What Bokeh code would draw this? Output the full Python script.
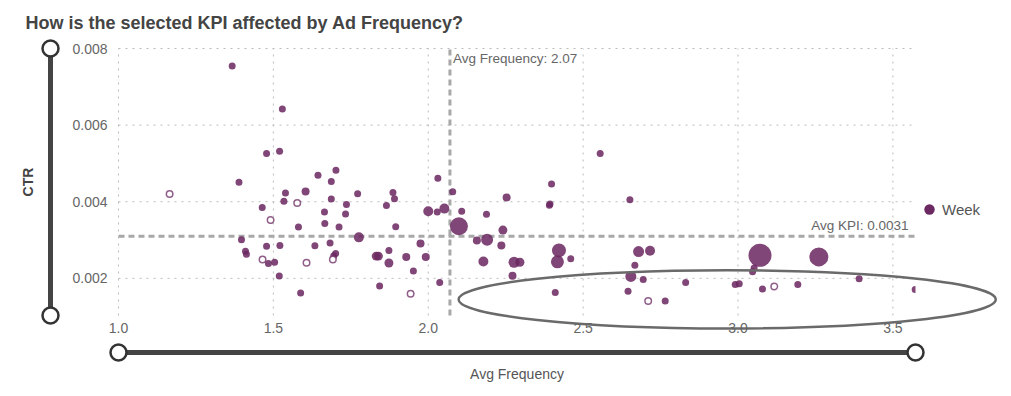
import numpy as np
from bokeh.plotting import figure
from bokeh.models import (LinearAxis, FixedTicker, NumeralTickFormatter, Label, Grid,
                          Legend, LegendItem, Range1d, ColumnDataSource)
from bokeh.embed import file_html
from bokeh.resources import INLINE

# ---------------- texts ----------------
TITLE = "How is the selected KPI affected by Ad Frequency?"
X_LABEL = "Avg Frequency"
Y_LABEL = "CTR"
SERIES = "Week"

# ---------------- data (one point per week) ----------------
freq = [1.367, 1.529, 1.478, 1.520, 2.555, 2.398, 2.393, 2.391, 2.651, 2.422,
        2.417, 2.460, 2.679, 2.716, 2.667, 2.654, 2.694, 2.645, 2.765, 2.831,
        2.410, 3.071, 3.052, 3.047, 3.261, 2.991, 3.004, 3.079, 3.193, 3.391,
        3.572, 2.031, 2.079, 2.253, 2.000, 2.029, 2.052, 2.108, 2.099, 2.188,
        2.241, 2.190, 2.157, 2.236, 1.975, 1.929, 1.992, 1.952, 2.178, 2.277,
        2.296, 2.272, 2.037, 1.389, 1.644, 1.702, 1.687, 1.539, 1.604, 1.534,
        1.464, 1.687, 1.665, 1.736, 1.733, 1.666, 1.712, 1.581, 1.772, 1.776,
        1.886, 1.891, 1.865, 1.895, 1.397, 1.410, 1.413, 1.478, 1.521, 1.484,
        1.504, 1.519, 1.588, 1.634, 1.683, 1.701, 1.695, 1.832, 1.839, 1.873,
        1.873, 1.843]
ctr = [0.00754, 0.00642, 0.00526, 0.00532, 0.00526, 0.00446, 0.00394, 0.00391, 0.00405, 0.00273,
       0.00243, 0.00251, 0.00270, 0.00272, 0.00234, 0.00205, 0.00197, 0.00166, 0.00141, 0.00189,
       0.00163, 0.00260, 0.00227, 0.00217, 0.00256, 0.00184, 0.00186, 0.00172, 0.00184, 0.00199,
       0.00171, 0.00461, 0.00426, 0.00411, 0.00375, 0.00373, 0.00382, 0.00375, 0.00336, 0.00367,
       0.00326, 0.00301, 0.00299, 0.00286, 0.00291, 0.00256, 0.00256, 0.00219, 0.00244, 0.00242,
       0.00242, 0.00207, 0.00189, 0.00451, 0.00469, 0.00482, 0.00453, 0.00423, 0.00427, 0.00401,
       0.00385, 0.00407, 0.00373, 0.00393, 0.00368, 0.00343, 0.00334, 0.00334, 0.00421, 0.00307,
       0.00424, 0.00408, 0.00390, 0.00335, 0.00301, 0.00271, 0.00263, 0.00284, 0.00286, 0.00239,
       0.00242, 0.00206, 0.00162, 0.00285, 0.00292, 0.00265, 0.00259, 0.00258, 0.00258, 0.00273,
       0.00240, 0.00180]
# impressions (thousands) -> bubble area
impressions = [100, 100, 100, 100, 100, 100, 100, 100, 100, 400,
               345, 100, 247, 204, 100, 247, 100, 100, 100, 100,
               100, 1080, 100, 100, 737, 100, 100, 100, 100, 100,
               100, 100, 100, 131, 204, 100, 204, 100, 661, 100,
               165, 294, 131, 131, 131, 131, 131, 100, 204, 247,
               165, 131, 100, 100, 100, 100, 100, 100, 131, 100,
               100, 100, 100, 100, 100, 100, 100, 100, 100, 204,
               100, 100, 100, 100, 100, 100, 100, 100, 100, 100,
               100, 100, 100, 100, 100, 100, 100, 165, 165, 100,
               165, 100]
# weeks shown as hollow markers
hollow_freq = [1.165, 1.491, 1.577, 1.465, 1.607, 1.692, 1.943, 2.710, 3.117]
hollow_ctr = [0.00420, 0.00352, 0.00397, 0.00249, 0.00241, 0.00249, 0.00160, 0.00141, 0.00179]

X_TICKS = [1.0, 1.5, 2.0, 2.5, 3.0, 3.5]
Y_TICKS = [0.002, 0.004, 0.006, 0.008]
X_MIN, X_MAX = 1.0, 3.573        # frequency slider range
Y_MIN, Y_MAX = 0.00103, 0.008    # CTR slider range
AVG_FREQ = 2.07
AVG_KPI = 0.0031
# highlighted region (ellipse)
ELL_X, ELL_Y, ELL_W, ELL_H = 2.965, 0.00145, 1.734, 0.00152

# ---------------- layout (pixels in canvas) ----------------
W, H = 1010, 395
IL, IR, IT, IB = 118, 915, 48, 315       # inner plotting area
sx = (IR - IL) / (X_MAX - X_MIN)
sy = (IB - IT) / (Y_MAX - Y_MIN)
x0 = X_MIN - IL / sx
x1 = X_MAX + (W - IR) / sx
y1 = Y_MAX + IT / sy
y0 = Y_MIN - (H - IB) / sy


def px2x(px):
    return x0 + px / sx


def py2y(py):
    return y1 - py / sy


PT = "#6b2861"
FONT = "Liberation Sans"

p = figure(frame_width=W, frame_height=H, x_range=Range1d(x0, x1), y_range=Range1d(y0, y1),
           x_axis_location=None, y_axis_location=None, toolbar_location=None,
           output_backend="svg", min_border=0, outline_line_color=None)
# drop the default full-frame grids
p.center = [c for c in p.center if not isinstance(c, Grid)]

# axes at fixed locations inside the frame
xax = LinearAxis(fixed_location=Y_MIN, ticker=FixedTicker(ticks=X_TICKS),
                 formatter=NumeralTickFormatter(format="0.0"), axis_label=X_LABEL,
                 bounds=(X_MIN, X_MAX))
yax = LinearAxis(fixed_location=X_MIN, ticker=FixedTicker(ticks=Y_TICKS),
                 formatter=NumeralTickFormatter(format="0.000"), axis_label=Y_LABEL,
                 bounds=(Y_MIN, Y_MAX))
for ax in (xax, yax):
    ax.axis_line_color = None
    ax.major_tick_line_color = None
    ax.minor_tick_line_color = None
    ax.major_tick_out = 0
    ax.major_tick_in = 0
    ax.major_label_text_font = FONT
    ax.major_label_text_font_size = "14px"
    ax.major_label_text_color = "#666666"
    ax.axis_label_text_font = FONT
    ax.axis_label_text_font_size = "14px"
xax.major_label_standoff = 7
xax.axis_label_standoff = 30
xax.axis_label_text_font_style = "normal"
xax.axis_label_text_color = "#555555"
yax.major_label_standoff = 11
yax.axis_label_standoff = 33
yax.axis_label_text_font_style = "bold"
yax.axis_label_text_color = "#444444"
p.add_layout(xax, "below")
p.add_layout(yax, "left")

# dotted grid lines inside the plotting area
p.segment(x0=X_TICKS, y0=[Y_MIN] * len(X_TICKS), x1=X_TICKS, y1=[Y_MAX] * len(X_TICKS),
          line_color="#bbbbbb", line_dash="2 5", line_width=1)
p.segment(x0=[X_MIN] * len(Y_TICKS), y0=Y_TICKS, x1=[X_MAX] * len(Y_TICKS), y1=Y_TICKS,
          line_color="#bbbbbb", line_dash="2 5", line_width=1)

# average lines
p.segment(x0=[AVG_FREQ], y0=[Y_MIN], x1=[AVG_FREQ], y1=[Y_MAX],
          line_color="#a8a8a8", line_width=3, line_dash="6 4")
p.segment(x0=[X_MIN], y0=[AVG_KPI], x1=[X_MAX], y1=[AVG_KPI],
          line_color="#a8a8a8", line_width=3, line_dash="6 4")

# points
src = ColumnDataSource(dict(x=freq, y=ctr, s=[7.0 * np.sqrt(v / 100.0) for v in impressions]))
p.scatter("x", "y", size="s", source=src, fill_color=PT, fill_alpha=0.86, line_color=None)
p.scatter(hollow_freq, hollow_ctr, size=6.5, fill_color="white", line_color=PT,
          line_alpha=0.75, line_width=1.5)

# mask outside the plotting frame on the right (frame clipping)
p.quad(left=[X_MAX], right=[x1], bottom=[Y_MIN], top=[Y_MAX], fill_color="white", line_color=None)

# highlight ellipse
p.ellipse(x=[ELL_X], y=[ELL_Y], width=[ELL_W], height=[ELL_H], fill_color=None,
          line_color="#6a6a6a", line_width=2.5)

# range sliders
sl_x = px2x(50)
sl_y = py2y(352)
p.segment(x0=[sl_x], y0=[Y_MIN], x1=[sl_x], y1=[Y_MAX], line_color="#444444", line_width=5)
p.segment(x0=[X_MIN], y0=[sl_y], x1=[X_MAX], y1=[sl_y], line_color="#444444", line_width=5)
p.scatter([sl_x, sl_x, X_MIN, X_MAX], [Y_MIN, Y_MAX, sl_y, sl_y], size=16,
          fill_color="white", line_color="#333333", line_width=2.5)

# labels
p.add_layout(Label(x=px2x(25), y=py2y(22), text=TITLE, text_font=FONT, text_font_style="bold",
                   text_font_size="18px", text_color="#444444", text_baseline="middle"))
p.add_layout(Label(x=AVG_FREQ, y=Y_MAX, x_offset=3, y_offset=-2,
                   text=f"Avg Frequency: {AVG_FREQ:.2f}", text_font=FONT, text_font_size="13.5px",
                   text_color="#666666", text_baseline="top"))
p.add_layout(Label(x=X_MAX, y=AVG_KPI, x_offset=-7, y_offset=3,
                   text=f"Avg KPI: {AVG_KPI:.4f}", text_font=FONT, text_font_size="13.5px",
                   text_color="#666666", text_baseline="bottom", text_align="right"))

# legend (swatch renderer sits outside the visible ranges)
swatch = p.scatter(x=[x1 + 10.0], y=[y1 + 1.0], size=11, fill_color="#6b2861", line_color=None)
leg = Legend(items=[LegendItem(label=SERIES, renderers=[swatch])], location=(916, H - 222),
             padding=0, margin=0, spacing=0, glyph_width=26, glyph_height=26,
             label_standoff=0, label_height=18, label_text_font=FONT,
             label_text_font_size="15px", label_text_color="#555555",
             background_fill_alpha=0, border_line_color=None)
p.add_layout(leg)

open("out.html", "w").write(file_html(p, INLINE))
